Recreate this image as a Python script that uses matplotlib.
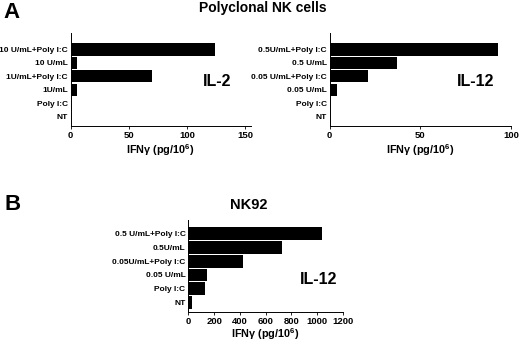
import matplotlib
matplotlib.use("Agg")
import matplotlib.pyplot as plt

plt.rcParams['font.family'] = ['Liberation Sans', 'DejaVu Sans']
plt.rcParams['font.weight'] = 'bold'
plt.rcParams['mathtext.fontset'] = 'custom'
plt.rcParams['mathtext.rm'] = 'Liberation Sans:bold'
plt.rcParams['mathtext.it'] = 'Liberation Sans:bold'
plt.rcParams['mathtext.bf'] = 'Liberation Sans:bold'

# panel A, IL-2 (bottom to top)
il2_labels = ["NT", "Poly I:C", "1U/mL", "1U/mL+Poly I:C", "10 U/mL", "10 U/mL+Poly I:C"]
il2_values = [0.3, 0.5, 6, 70, 5.3, 124]

# panel A, IL-12
il12_labels = ["NT", "Poly I:C", "0.05 U/mL", "0.05 U/mL+Poly I:C", "0.5 U/mL", "0.5U/mL+Poly I:C"]
il12_values = [0.3, 0.4, 4.3, 21, 37, 93]

# panel B, NK92 IL-12
nk92_labels = ["NT", "Poly I:C", "0.05 U/mL", "0.05U/mL+Poly I:C", "0.5U/mL", "0.5 U/mL+Poly I:C"]
nk92_values = [25, 129, 142, 426, 729, 1036]

xlab = r"IFNγ (pg/10$^{6}$)"

fig = plt.figure(figsize=(5.2, 3.43), dpi=100)


def panel(rect, labels, values, xlim, xticks, tag, tagpos, ylim, lpad=2):
    ax = fig.add_axes(rect)
    ax.barh(range(len(values)), values, height=0.92, color='black')
    ax.set_yticks(range(len(labels)))
    ax.set_yticklabels(labels, fontsize=6, fontweight='bold')
    ax.set_xlim(*xlim)
    ax.set_ylim(*ylim)
    ax.set_xticks(xticks)
    ax.tick_params(axis='y', length=0, pad=2)
    ax.tick_params(axis='x', length=2, width=0.6, pad=1.5, labelsize=6.8)
    for t in ax.get_xticklabels():
        t.set_fontweight('bold')
    ax.spines['top'].set_visible(False)
    ax.spines['right'].set_visible(False)
    ax.spines['left'].set_linewidth(0.7)
    ax.spines['bottom'].set_linewidth(0.7)
    ax.set_xlabel(xlab, fontsize=7.8, fontweight='bold', labelpad=lpad)
    ax.text(tagpos[0], tagpos[1], tag, transform=ax.transAxes, fontsize=11.5,
            fontweight='bold', va='center', ha='left')
    return ax


panel([0.1356, 0.6327, 0.3467, 0.272], il2_labels, il2_values, (0, 155),
      [0, 50, 100, 150], "IL-2", (0.735, 0.475), (-0.7, 6.25))
panel([0.6337, 0.6327, 0.349, 0.272], il12_labels, il12_values, (0, 100),
      [0, 50, 100], "IL-12", (0.70, 0.475), (-0.7, 6.25))
panel([0.3621, 0.0895, 0.2975, 0.269], nk92_labels, nk92_values, (0, 1200),
      [0, 200, 400, 600, 800, 1000, 1200], "IL-12", (0.722, 0.357), (-0.72, 6.0),
      lpad=0.3)

fig.text(262.5 / 520, 1 - 8.3 / 343, "Polyclonal NK cells", fontsize=10,
         fontweight='bold', ha='center', va='center')
fig.text(249 / 520, 1 - 205 / 343, "NK92", fontsize=10.5,
         fontweight='bold', ha='center', va='center')
fig.text(11.7 / 520, 1 - 12.5 / 343, "A", fontsize=16, fontweight='bold',
         ha='center', va='center')
fig.text(13 / 520, 1 - 204 / 343, "B", fontsize=16, fontweight='bold',
         ha='center', va='center')

fig.savefig("out.png", dpi=100)
